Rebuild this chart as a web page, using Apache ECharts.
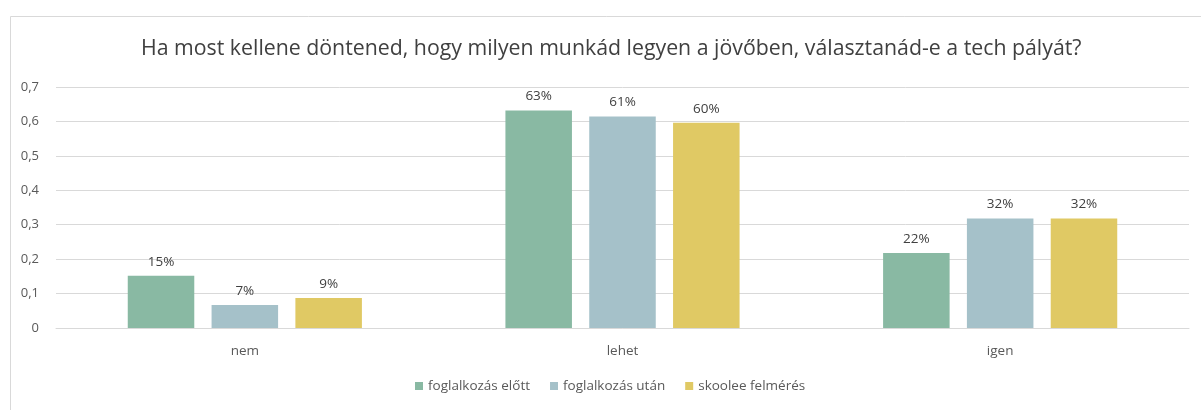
<!DOCTYPE html>
<html>
<head>
<meta charset="utf-8">
<script src="https://cdn.jsdelivr.net/npm/echarts@6/dist/echarts.min.js"></script>
<style>
	body { margin: 0; background: #fff; }
</style>
</head>
<body>
<div id="main" style="width: 1201px; height: 410px"></div>
<script>
const categories = ['nem', 'lehet', 'igen']
const seriesNames = ['foglalkozás előtt', 'foglalkozás után', 'skoolee felmérés']
const before = [0.152, 0.632, 0.218]
const after = [0.067, 0.614, 0.318]
const skoolee = [0.087, 0.596, 0.318]
const yTicks = [0, 0.1, 0.2, 0.3, 0.4, 0.5, 0.6, 0.7]

const colors = ['#89b9a3', '#a5c1c9', '#e0c964']
const font = '"Open Sans", "Noto Sans", sans-serif'

const chart = echarts.init(document.getElementById('main'))

const makeSeries = (name, data) => ({
	name: name,
	type: 'bar',
	barGap: '26%',
	barCategoryGap: '38%',
	data: data,
	label: {
		show: true,
		position: 'top',
		distance: 7,
		color: '#404040',
		fontSize: 13.5,
		fontFamily: font,
		formatter: p => Math.round(p.value * 100) + '%'
	}
})

const option = {
	color: colors,
	animation: false,
	textStyle: { fontFamily: font },
	graphic: [{
		type: 'rect',
		left: 8,
		top: 14,
		shape: { width: 1200, height: 400 },
		style: { fill: 'none', stroke: '#d9d9d9', lineWidth: 1 }
	}],
	title: {
		text: 'Ha most kellene döntened, hogy milyen munkád legyen a jövőben, választanád-e a tech pályát?',
		left: 136,
		top: 33,
		textStyle: { fontSize: 21.3, fontWeight: 'normal', color: '#404040', fontFamily: font }
	},
	legend: {
		data: seriesNames,
		bottom: 12,
		left: 410,
		itemWidth: 8,
		itemHeight: 8,
		itemGap: 20,
		icon: 'rect',
		textStyle: { fontSize: 13.5, color: '#595959', fontFamily: font, padding: [0, 0, 0, 0] }
	},
	grid: { left: 56, right: 12, top: 87, bottom: 82 },
	xAxis: {
		type: 'category',
		data: categories,
		axisLine: { lineStyle: { color: '#d9d9d9' } },
		axisTick: { show: false },
		axisLabel: { color: '#595959', fontSize: 13.5, margin: 16, fontFamily: font }
	},
	yAxis: {
		type: 'value',
		min: yTicks[0],
		max: yTicks[yTicks.length - 1],
		interval: 0.1,
		splitLine: { lineStyle: { color: '#d9d9d9' } },
		axisLabel: {
			color: '#595959',
			fontSize: 13,
			margin: 17,
			fontFamily: font,
			formatter: v => String(Math.round(v * 10) / 10).replace('.', ',')
		}
	},
	series: [
		makeSeries(seriesNames[0], before),
		makeSeries(seriesNames[1], after),
		makeSeries(seriesNames[2], skoolee)
	]
}

chart.setOption(option)
</script>
</body>
</html>
